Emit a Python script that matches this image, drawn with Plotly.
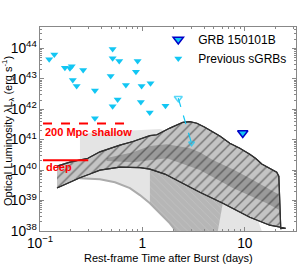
import numpy as np
import plotly.graph_objects as go

# ---------------- data ----------------
# previous short GRBs (upper limits): time in days, luminosity erg/s
prev_t = [0.123, 0.138, 0.175, 0.196, 0.204, 0.209, 0.228, 0.264, 0.344, 0.344,
          0.512, 0.512, 0.594, 0.490, 0.512, 0.573, 0.690, 0.898, 0.865, 0.982,
          0.966, 1.20, 1.18, 1.68]
prev_L = [4.4e43, 6.3e43, 2.3e43, 2.2e43, 2.6e43, 9.1e42, 5.8e42, 1.95e43, 4.1e42, 5.0e41,
          9.5e43, 4.7e43, 3.8e43, 1.23e43, 1.26e42, 2.1e42, 6.2e42, 3.8e43, 1.7e43, 5.8e42,
          1.74e42, 7.1e42, 7.8e41, 1.3e42]

# open (moved) upper limit with dashed connector
moved_t = [2.24, 3.02]
moved_L = [2.3e42, 7.6e40]

# GRB 150101B
grb_t = [9.55]
grb_L = [1.66e41]

# detection thresholds at 200 Mpc
shallow_t = [0.107, 0.785]
shallow_L = [3.4e41, 3.4e41]
deep_t = [0.107, 0.296]
deep_L = [2.1e40, 2.1e40]

# outer hatched envelope (log10 L)
env_up_t = [0.1466, 0.1962, 0.2939, 0.3849, 0.6033, 0.808, 1.184, 1.385, 1.855, 2.171,
            2.484, 2.907, 3.402, 4.072, 4.764, 5.703, 7.14, 8.94, 11.19, 12.8, 14.65,
            17.53, 20.5, 21.5, 22.0, 22.45]
env_up_logL = [40.13, 40.26, 40.39, 40.60, 40.82, 40.94, 41.13, 41.16, 41.38, 41.49,
               41.57, 41.59, 41.54, 41.41, 41.28, 41.12, 40.88, 40.72, 40.52, 40.38, 40.20,
               40.05, 39.93, 39.80, 39.00, 38.08]
env_lo_t = [0.1466, 0.1962, 0.2456, 0.3074, 0.3849, 0.6033, 0.9454, 1.184, 1.658, 2.484,
            2.907, 3.639, 6.101, 11.19, 17.53, 25.1]
env_lo_logL = [39.41, 39.60, 39.75, 39.87, 40.00, 40.10, 40.08, 40.03, 39.87, 39.57,
               39.44, 39.27, 38.91, 38.45, 38.19, 38.09]

# inner darker band (log10 L)
band_up_t = [0.4474, 0.808, 1.184, 1.734, 2.907, 3.639, 4.873, 7.64, 11.19, 16.39, 21.95]
band_up_logL = [40.40, 40.59, 40.79, 40.85, 40.72, 40.59, 40.33, 40.03, 39.73, 39.41, 39.18]
band_lo_t = [0.4474, 0.808, 1.734, 3.639, 7.64, 16.39, 21.95]
band_lo_logL = [40.30, 40.26, 40.39, 40.00, 39.41, 38.91, 38.68]

# light grey model region (log10 L)
light_t = [0.2456, 0.3849, 0.7551, 1.482, 3.639, 8.94, 14.65, 2.122, 1.855, 1.482,
           1.184, 0.9454, 0.7551, 0.5393, 0.3849, 0.2456]
light_logL = [41.21, 41.25, 41.31, 41.35, 40.98, 40.00, 38.0, 38.0, 38.25, 38.58,
              38.91, 39.18, 39.41, 39.60, 39.70, 39.73]
# its lower boundary line
lightline_t = [0.2456, 0.3849, 0.5393, 0.7551, 0.9454, 1.184, 1.482, 1.855, 2.122]
lightline_logL = [39.73, 39.70, 39.60, 39.41, 39.18, 38.91, 38.58, 38.25, 38.0]

# medium grey region starting at 1 day (log10 L)
mid_t = [1.184, 1.658, 2.484, 3.639, 6.101, 5.453, 2.122, 1.855, 1.482, 1.184]
mid_logL = [40.03, 39.87, 39.57, 39.27, 38.91, 38.0, 38.0, 38.25, 38.58, 38.91]

CYAN = '#12C6F3'
FONT = 'Liberation Sans, Arial, sans-serif'

fig = go.Figure()

def L(v):
    return list(10 ** np.array(v))

fig.add_trace(go.Scatter(x=light_t, y=L(light_logL), mode='lines', fill='toself',
                         fillcolor='#e4e4e4', line=dict(width=0), showlegend=False,
                         hoverinfo='skip'))
fig.add_trace(go.Scatter(x=mid_t, y=L(mid_logL), mode='lines', fill='toself',
                         line=dict(width=0), showlegend=False, hoverinfo='skip',
                         fillpattern=dict(shape='\\', fgcolor='#d0d0d0', bgcolor='#b6b6b6',
                                          size=5, solidity=0.15)))
fig.add_trace(go.Scatter(x=lightline_t, y=L(lightline_logL), mode='lines',
                         line=dict(color='#ababab', width=2), showlegend=False,
                         hoverinfo='skip'))

env_t = env_up_t + env_lo_t[::-1]
env_logL = env_up_logL + env_lo_logL[::-1]
fig.add_trace(go.Scatter(x=env_t, y=L(env_logL), mode='lines', fill='toself',
                         line=dict(color='#303030', width=1.2), showlegend=False,
                         hoverinfo='skip',
                         fillpattern=dict(shape='/', fgcolor='#202020', bgcolor='#c4c4c4',
                                          size=7, solidity=0.2)))
band_t = band_up_t + band_lo_t[::-1]
band_logL = band_up_logL + band_lo_logL[::-1]
fig.add_trace(go.Scatter(x=band_t, y=L(band_logL), mode='lines', fill='toself',
                         line=dict(width=0), showlegend=False, hoverinfo='skip',
                         fillpattern=dict(shape='/', fgcolor='#202020', bgcolor='#9a9a9a',
                                          size=7, solidity=0.2)))
# re-draw envelope outline on top
fig.add_trace(go.Scatter(x=env_t, y=L(env_logL), mode='lines',
                         line=dict(color='#303030', width=1.2), showlegend=False,
                         hoverinfo='skip'))

# thresholds
fig.add_trace(go.Scatter(x=shallow_t, y=shallow_L, mode='lines',
                         line=dict(color='#ff0000', width=2, dash='dash'),
                         showlegend=False, hoverinfo='skip'))
fig.add_trace(go.Scatter(x=deep_t, y=deep_L, mode='lines',
                         line=dict(color='#ff0000', width=2),
                         showlegend=False, hoverinfo='skip'))

# moved limit
fig.add_trace(go.Scatter(x=moved_t, y=moved_L, mode='lines',
                         line=dict(color=CYAN, width=1.2, dash='dash'),
                         showlegend=False, hoverinfo='skip'))
fig.add_trace(go.Scatter(x=moved_t, y=moved_L, mode='markers',
                         marker=dict(symbol='triangle-down-open', size=[7, 5], color=CYAN,
                                     line=dict(width=1.5, color=CYAN)),
                         showlegend=False, hoverinfo='skip'))

fig.add_trace(go.Scatter(x=grb_t, y=grb_L, mode='markers', name='GRB 150101B',
                         marker=dict(symbol='triangle-down', size=9, color=CYAN,
                                     line=dict(width=1.5, color='#0000c8'))))
fig.add_trace(go.Scatter(x=prev_t, y=prev_L, mode='markers', name='Previous sGRBs',
                         marker=dict(symbol='triangle-down', size=7, color=CYAN,
                                     line=dict(width=0))))

fig.add_annotation(x=np.log10(0.107), y=41.26, text='<b>200 Mpc shallow</b>',
                   showarrow=False, xanchor='left', yanchor='middle',
                   font=dict(family=FONT, size=11, color='#ff0000'))
fig.add_annotation(x=np.log10(0.109), y=40.10, text='<b>deep</b>',
                   showarrow=False, xanchor='left', yanchor='middle',
                   font=dict(family=FONT, size=11, color='#ff0000'))

# axis titles
fig.add_annotation(xref='paper', yref='paper', x=0.5, y=-0.132,
                   text='Rest-frame Time after Burst (days)', showarrow=False,
                   xanchor='center', yanchor='middle',
                   font=dict(family=FONT, size=11, color='#000'))
fig.add_annotation(xref='paper', yref='paper', x=-0.125, y=0.49, textangle=-90,
                   text='Optical Luminosity λL<sub>λ</sub> (erg s<sup>-1</sup>)',
                   showarrow=False, xanchor='center', yanchor='middle',
                   font=dict(family=FONT, size=11, color='#000'))

axis_common = dict(type='log', showgrid=False, zeroline=False, showline=True,
                   linecolor='#888', linewidth=1, mirror='ticks', ticks='inside',
                   ticklen=4, tickcolor='#888', exponentformat='power', dtick=1,
                   tickfont=dict(family=FONT, size=11, color='#000'),
                   minor=dict(ticks='inside', ticklen=2, tickcolor='#888', dtick='D1',
                              showgrid=False))

fig.update_xaxes(**axis_common, range=[-1, 1.5])
fig.update_yaxes(**axis_common, range=[38, 44.7])

fig.update_layout(width=299, height=276, autosize=False,
                  margin=dict(l=40, r=3, t=27, b=45, pad=0),
                  paper_bgcolor='white', plot_bgcolor='white',
                  font=dict(family=FONT, size=11, color='#000'),
                  legend=dict(x=0.462, y=1.01, xanchor='left', yanchor='top',
                              bgcolor='rgba(0,0,0,0)', font=dict(family=FONT, size=12),
                              itemwidth=30, tracegroupgap=0, borderwidth=0))

fig.write_html('out.html', config={'displayModeBar': False},
               post_script="document.body.style.margin='0';")
